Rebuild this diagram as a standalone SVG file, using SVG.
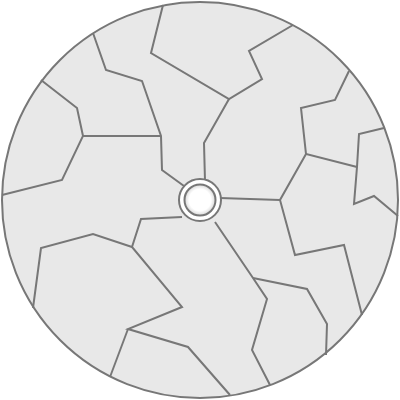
<svg xmlns="http://www.w3.org/2000/svg" width="400" height="400" viewBox="0 0 400 400">
<defs>
<radialGradient id="hole" cx="50%" cy="50%" r="50%">
<stop offset="0.7" stop-color="#ffffff"/>
<stop offset="1" stop-color="#d8d8d8"/>
</radialGradient>
<style>
.crack{fill:none;stroke:#777;stroke-width:2;stroke-linejoin:miter}
</style>
</defs>
<circle cx="200" cy="200" r="198" fill="#e8e8e8" stroke="#777" stroke-width="2"/>
<g id="cracks" class="crack">
<polyline points="163,5 151,53 229,99 262,79 249,51 293,25"/>
<polyline points="229,99 204,143 205,181"/>
<polyline points="93,33 106,70 142,81 161,136 162,170 184,186"/>
<polyline points="41,80 77,108 83,136 62,180 2,195"/>
<polyline points="83,136 161,136"/>
<polyline points="349,71 335,100 301,108 306,154 357,167"/>
<polyline points="306,154 280,200 295,255 344,245 362,315"/>
<polyline points="384,128 359,134 357,167 354,204 374,196 398,216"/>
<polyline points="220,198 280,200"/>
<polyline points="215,222 253,278 267,299 252,350 270,385"/>
<polyline points="253,278 307,289 327,324 326,355"/>
<polyline points="182,217 141,219 132,247 182,307 128,329 188,347 230,395"/>
<polyline points="128,329 110,377"/>
<polyline points="132,247 93,234 41,248 33,308"/>
</g>
<g id="hub">
<circle cx="200" cy="200" r="21" fill="#ffffff" stroke="#777" stroke-width="2"/>
<circle cx="200" cy="200" r="15.5" fill="url(#hole)" stroke="#777" stroke-width="2"/>
</g>
</svg>
